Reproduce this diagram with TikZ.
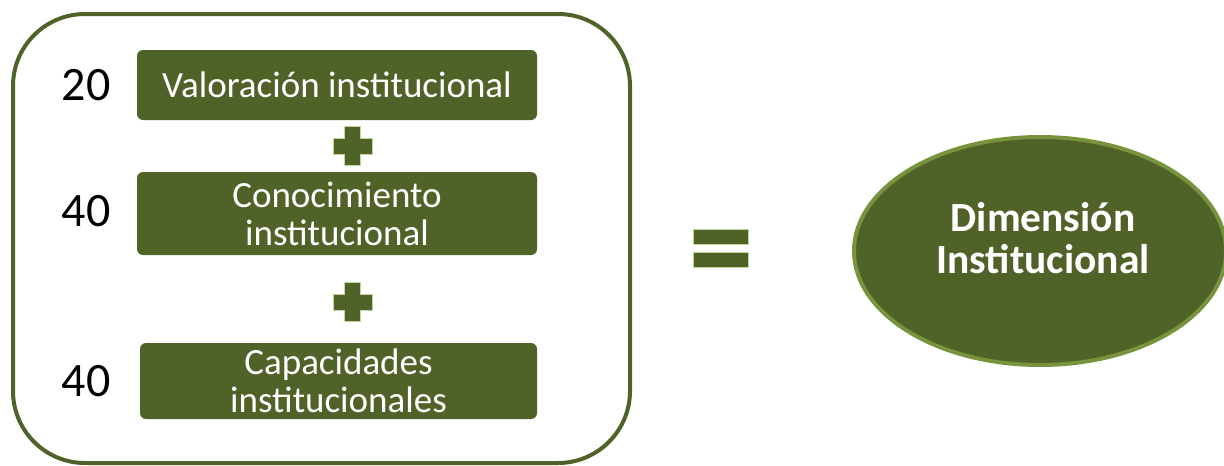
\documentclass[tikz,border=0pt]{standalone}
\usepackage{fontspec}
\setmainfont{Carlito}
\usepackage{tikz}
\usetikzlibrary{shapes.geometric}
\definecolor{olivedark}{HTML}{4F6228}
\definecolor{olivemid}{HTML}{77933C}
\definecolor{olivelight}{HTML}{C3D69B}

\begin{document}
\begin{tikzpicture}[x=1pt,y=-1pt,
  item/.style={fill=olivedark, rounded corners=6pt, minimum width=400pt,
    inner sep=0pt, text=white, align=center,
    font=\fontsize{37}{38}\selectfont},
  weight/.style={font=\fontsize{48}{50}\selectfont, inner sep=0pt},
  sym/.style={fill=olivedark, draw=olivelight, line width=0.6pt}]
\useasboundingbox (0,0) rectangle (1224,466);
% frame round the three parts
\node (frame) [draw=olivedark, line width=4pt, rounded corners=72pt,
  minimum width=617pt, minimum height=449pt] at (321.5,238.5) {};
\node (val) [item, minimum height=70pt] at (337,85) {Valoración institucional};
\node (con) [item, minimum height=83pt] at (337,213.5) {Conocimiento\\institucional};
\node (cap) [item, minimum height=76pt, minimum width=397pt] at (338.5,381)
  {Capacidades\\institucionales};
\node (w1) [weight] at (86,85) {20};
\node (w2) [weight] at (86,211) {40};
\node (w3) [weight] at (86,381) {40};
% plus signs
\foreach \y in {146,302}
  \filldraw[sym] (352.5,\y) ++(-19.5,-8) -- ++(11.5,0) -- ++(0,-11.5)
    -- ++(16,0) -- ++(0,11.5) -- ++(11.5,0) -- ++(0,16) -- ++(-11.5,0)
    -- ++(0,11.5) -- ++(-16,0) -- ++(0,-11.5) -- ++(-11.5,0) -- cycle;
% equals sign
\filldraw[sym] (693,229) rectangle (748,244);
\filldraw[sym] (693,252) rectangle (748,267);
\node (dim) [ellipse, fill=olivedark, draw=olivemid, line width=4pt,
  minimum width=372pt, minimum height=228pt] at (1040,251) {};
\node (dimtxt) [text=white, align=center, inner sep=0pt,
  font=\bfseries\fontsize{41.5}{42}\selectfont] at (1043,238)
  {Dimensión\\Institucional};
\end{tikzpicture}
\end{document}
